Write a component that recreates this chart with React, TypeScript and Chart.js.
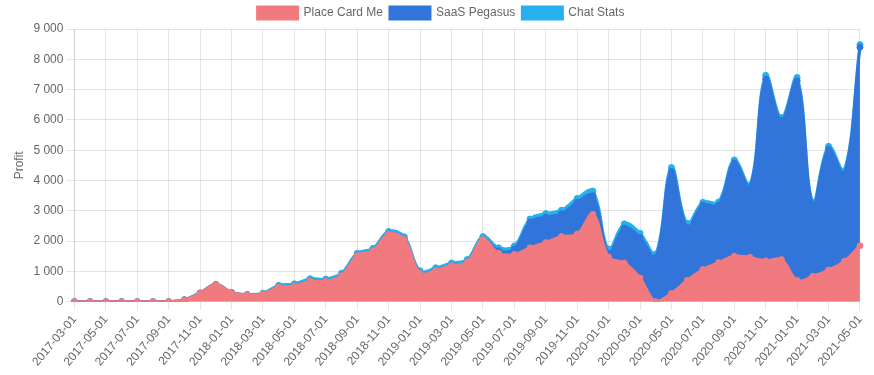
import React, { useEffect, useRef } from "react";
import { Chart, registerables } from "chart.js";

Chart.register(...registerables);

const months: string[] = [
  "2017-03-01","2017-04-01","2017-05-01","2017-06-01","2017-07-01","2017-08-01","2017-09-01","2017-10-01",
  "2017-11-01","2017-12-01","2018-01-01","2018-02-01","2018-03-01","2018-04-01","2018-05-01","2018-06-01",
  "2018-07-01","2018-08-01","2018-09-01","2018-10-01","2018-11-01","2018-12-01","2019-01-01","2019-02-01",
  "2019-03-01","2019-04-01","2019-05-01","2019-06-01","2019-07-01","2019-08-01","2019-09-01","2019-10-01",
  "2019-11-01","2019-12-01","2020-01-01","2020-02-01","2020-03-01","2020-04-01","2020-05-01","2020-06-01",
  "2020-07-01","2020-08-01","2020-09-01","2020-10-01","2020-11-01","2020-12-01","2021-01-01","2021-02-01",
  "2021-03-01","2021-04-01","2021-05-01",
];

const placeCardMe: number[] = [
  0, 0, 0, 0, 0, 0, 0, 60,
  280, 560, 300, 230, 260, 480, 520, 680,
  670, 860, 1520, 1680, 2230, 2050, 930, 1030,
  1190, 1300, 2050, 1600, 1560, 1780, 1950, 2150,
  2230, 2880, 1470, 1280, 780, 0, 270, 700,
  1060, 1290, 1500, 1460, 1350, 1390, 700, 840,
  1045, 1330, 1850,
];

const saasPegasus: number[] = [
  0, 0, 0, 0, 0, 0, 0, 0,
  0, 0, 0, 0, 0, 0, 0, 0,
  0, 0, 0, 0, 0, 0, 0, 0,
  0, 0, 0, 80, 180, 850, 840, 750,
  1050, 620, 130, 1150, 1340, 1460, 4030, 1750,
  2130, 1890, 3080, 2300, 6000, 4600, 6590, 2360,
  3985, 2880, 6545,
];

const chatStats: number[] = [
  0, 0, 0, 0, 0, 0, 0, 10,
  15, 15, 10, 10, 20, 60, 70, 80,
  80, 80, 80, 80, 90, 90, 90, 90,
  90, 90, 100, 100, 100, 100, 120, 120,
  130, 150, 140, 140, 140, 115, 130, 140,
  90, 110, 100, 90, 120, 90, 110, 80,
  100, 110, 90,
];

const RED = "rgb(240, 122, 126)";
const BLUE = "rgb(49, 117, 219)";
const LIGHT = "rgb(38, 176, 237)";

const fmt = (v: number) => String(v).replace(/\B(?=(\d{3})+(?!\d))/g, " ");

export default function App() {
  const ref = useRef<HTMLCanvasElement | null>(null);

  useEffect(() => {
    document.body.style.margin = "0";
    const canvas = ref.current;
    if (!canvas) return;
    const mk = (label: string, data: number[], color: string, fill: any) => ({
      label,
      data,
      borderColor: color,
      backgroundColor: color,
      pointBackgroundColor: color,
      pointBorderColor: color,
      pointRadius: 3,
      pointBorderWidth: 1,
      borderWidth: 3,
      tension: 0.4,
      fill,
    });
    const chart = new Chart(canvas, {
      type: "line",
      data: {
        labels: months,
        datasets: [
          mk("Place Card Me", placeCardMe, RED, "origin"),
          mk("SaaS Pegasus", saasPegasus, BLUE, "-1"),
          mk("Chat Stats", chatStats, LIGHT, "-1"),
        ],
      },
      options: {
        animation: false,
        responsive: false,
        maintainAspectRatio: false,
        layout: { padding: { left: 8, bottom: 3 } },
        plugins: {
          legend: { position: "top", labels: { padding: 7 } },
          tooltip: { enabled: false },
        },
        scales: {
          x: {
            stacked: true,
            ticks: { maxRotation: 50, minRotation: 50 },
          },
          y: {
            stacked: true,
            min: 0,
            max: 9000,
            ticks: { stepSize: 1000, callback: (v: any) => fmt(Number(v)) },
            title: { display: true, text: "Profit" },
          },
        },
      },
    });
    return () => chart.destroy();
  }, []);

  return <canvas ref={ref} width={874} height={375} style={{ display: "block" }} />;
}
